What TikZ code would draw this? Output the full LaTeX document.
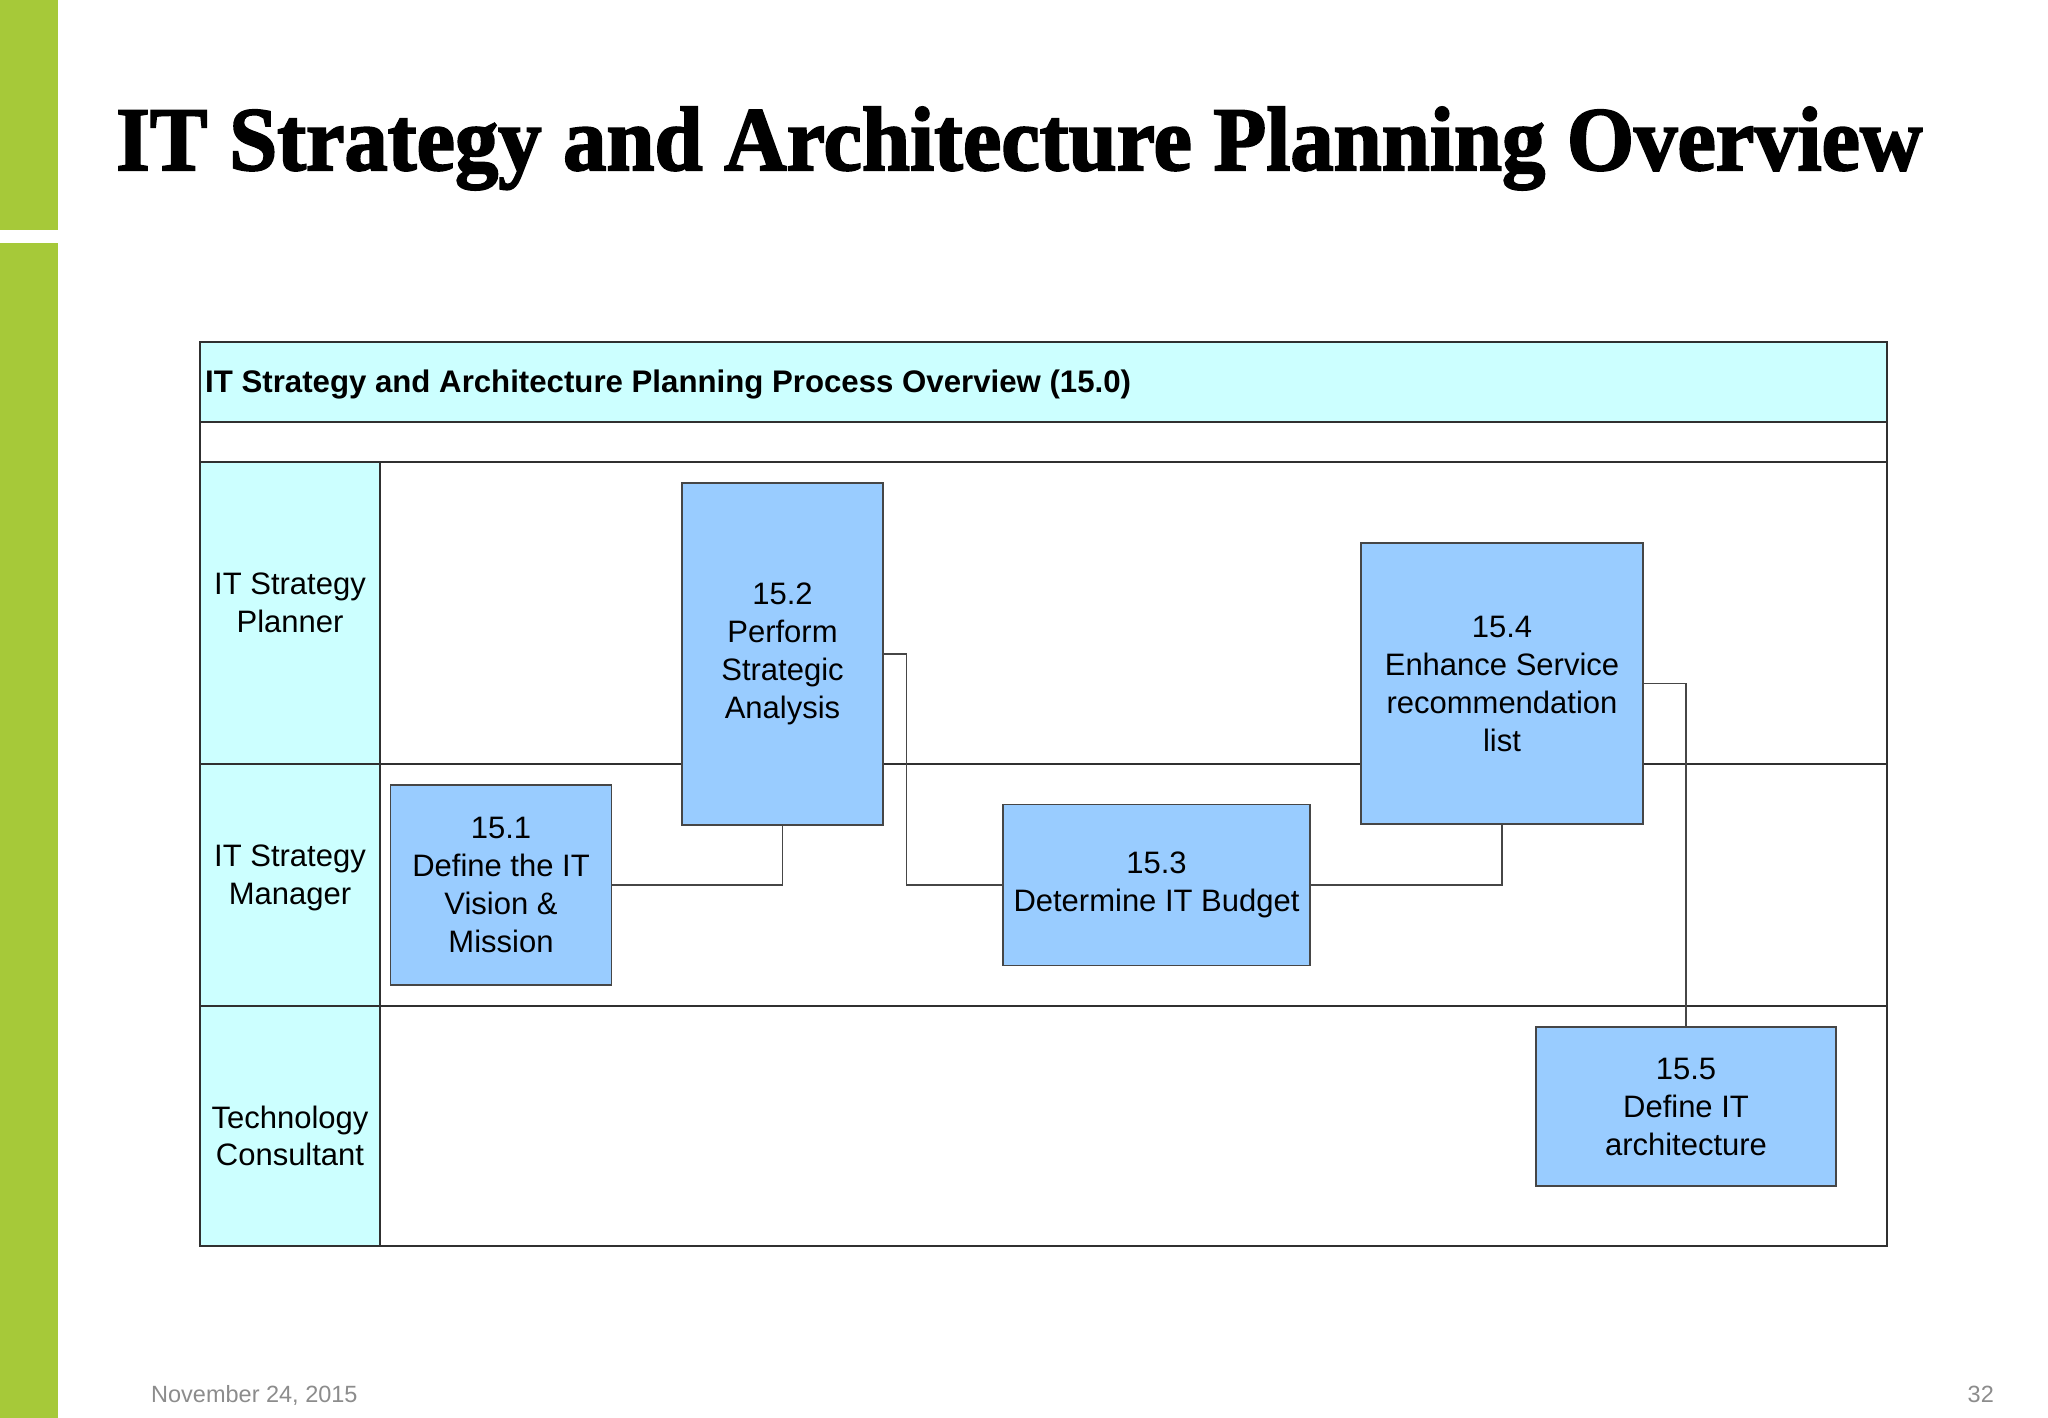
\documentclass[tikz,border=0pt]{standalone}
\usepackage{fontspec}
\usepackage{graphicx}
\setmainfont{Liberation Sans}
\newfontfamily\titlefont[FakeBold=2.2]{Liberation Serif}
\definecolor{barGreen}{RGB}{166,201,57}
\definecolor{laneCyan}{RGB}{204,255,255}
\definecolor{boxBlue}{RGB}{153,204,255}
\definecolor{frameLine}{RGB}{48,48,48}
\definecolor{boxLine}{RGB}{70,70,70}
\definecolor{footGray}{RGB}{140,140,140}
\tikzset{
  procbox/.style={draw=boxLine, line width=1.5pt, fill=boxBlue, align=center,
    font=\fontsize{31}{38}\selectfont, inner sep=0pt},
  lanelabel/.style={align=center, font=\fontsize{31}{37.5}\selectfont, inner sep=0pt},
  conn/.style={draw=boxLine, line width=1.4pt},
  gridline/.style={draw=frameLine, line width=1.5pt}
}
\begin{document}
\begin{tikzpicture}[x=1pt, y=-1pt]
\useasboundingbox (0,0) rectangle (2048,1418);
\fill[white] (0,0) rectangle (2048,1418);
% green side bars
\fill[barGreen] (0,0) rectangle (57.5,230);
\fill[barGreen] (0,243) rectangle (57.5,1418);
% title
\node[anchor=base west, inner sep=0pt] (title) at (116,170)
  {\resizebox{1806pt}{63pt}{\titlefont\bfseries IT Strategy and Architecture Planning Overview}};
% frame fills
\fill[laneCyan] (200,342) rectangle (1887,422);
\fill[laneCyan] (200,462) rectangle (380,1246);
% frame lines
\draw[gridline] (200,342) rectangle (1887,1246);
\draw[gridline] (200,422) -- (1887,422);
\draw[gridline] (200,462) -- (1887,462);
\draw[gridline] (200,764) -- (1887,764);
\draw[gridline] (200,1006) -- (1887,1006);
\draw[gridline] (380,462) -- (380,1246);
% header text
\node[anchor=base west, inner sep=0pt, font=\fontsize{31.2}{36}\selectfont\bfseries] (header) at (205,392)
  {IT Strategy and Architecture Planning Process Overview (15.0)};
% lane labels
\node[lanelabel] (lane1) at (290,603) {IT Strategy\\Planner};
\node[lanelabel] (lane2) at (290,878) {IT Strategy\\Manager};
\node[lanelabel] (lane3) at (290,1136) {Technology\\Consultant};
% process boxes
\node[procbox, minimum width=221pt, minimum height=200pt] (b1) at (501,885)
  {15.1\\Define the IT\\Vision \&\\Mission};
\node[procbox, minimum width=201pt, minimum height=342pt] (b2) at (782.5,654)
  {15.2\\Perform\\Strategic\\Analysis};
\node[procbox, minimum width=307pt, minimum height=161pt] (b3) at (1156.5,885)
  {15.3\\Determine IT Budget};
\node[procbox, minimum width=282pt, minimum height=281pt] (b4) at (1502,683.5)
  {15.4\\Enhance Service\\recommendation\\list};
\node[procbox, minimum width=300pt, minimum height=159pt] (b5) at (1686,1106.5)
  {15.5\\Define IT\\architecture};
% connectors
\draw[conn] (b1.east) -| (b2.south);
\draw[conn] (b2.east) -- ++(23,0) |- (b3.west);
\draw[conn] (b3.east) -| (b4.south);
\draw[conn] (b4.east) -| (b5.north);
% footer
\node[anchor=base west, inner sep=0pt, text=footGray, font=\fontsize{23.5}{28}\selectfont] (date) at (151,1402) {November 24, 2015};
\node[anchor=base east, inner sep=0pt, text=footGray, font=\fontsize{23.5}{28}\selectfont] (page) at (1994,1402) {32};
\end{tikzpicture}
\end{document}
